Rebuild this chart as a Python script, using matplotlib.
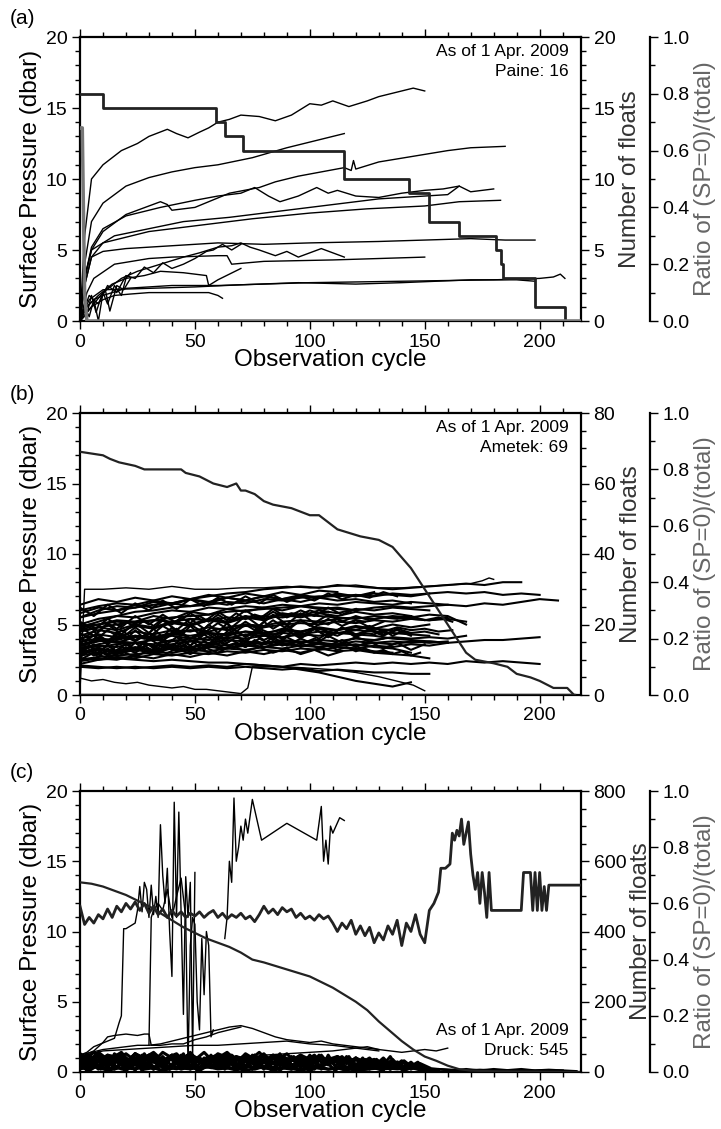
import numpy as np
import matplotlib
matplotlib.use('Agg')
import matplotlib.pyplot as plt
from matplotlib.ticker import MultipleLocator, FormatStrFormatter

plt.rcParams['font.family'] = ['Liberation Sans', 'DejaVu Sans']

# ---------------- Panel (a): Paine, 16 floats ----------------
a_floats = [
    ([0, 2, 5, 10, 18, 25, 30, 38, 42, 47, 52, 56, 60, 65, 70, 78, 85, 92, 100, 105, 110, 117, 125, 130, 135, 140, 145, 150],
     [0.0, 6.0, 10.0, 11.0, 12.0, 12.5, 13.0, 13.5, 13.2, 12.9, 13.3, 13.6, 14.0, 14.2, 14.5, 14.4, 14.1, 14.5, 15.3, 15.2, 15.5, 15.1, 15.5, 15.8, 16.0, 16.2, 16.4, 16.2]),
    ([0, 2, 5, 10, 20, 30, 40, 50, 60, 75, 90, 105, 115],
     [0.0, 4.0, 7.0, 8.3, 9.5, 10.1, 10.5, 10.8, 11.0, 11.5, 12.2, 12.8, 13.2]),
    ([0, 2, 5, 10, 20, 30, 35, 38, 40, 50, 65, 78, 85, 95, 115, 118, 119, 120, 130, 145, 160, 170, 185],
     [0.0, 3.0, 5.0, 6.3, 7.5, 8.1, 8.4, 8.2, 7.8, 8.0, 9.0, 9.4, 9.8, 10.2, 10.8, 10.6, 11.3, 10.7, 11.2, 11.6, 12.0, 12.2, 12.3]),
    ([0, 2, 5, 10, 20, 35, 50, 60, 70, 76, 82, 87, 95, 103, 108, 112, 120, 130, 140, 150, 158, 165],
     [0.0, 3.0, 5.2, 6.5, 7.4, 8.0, 8.5, 8.8, 9.0, 9.4, 8.8, 8.4, 8.8, 9.4, 9.0, 9.2, 8.8, 8.7, 9.0, 9.2, 9.3, 9.5]),
    ([0, 2, 5, 15, 30, 45, 65, 90, 110, 130, 150, 160, 165, 170, 180],
     [0.0, 3.0, 5.0, 6.0, 6.5, 7.0, 7.3, 7.8, 8.2, 8.6, 8.8, 8.9, 9.5, 9.1, 9.3]),
    ([0, 2, 5, 10, 30, 50, 75, 100, 125, 150, 165, 183],
     [0.0, 2.5, 4.5, 5.5, 6.3, 6.7, 7.2, 7.6, 7.9, 8.1, 8.4, 8.5]),
    ([0, 2, 5, 10, 20, 40, 60, 80, 100, 130, 150, 170, 185, 198],
     [0.0, 2.5, 4.5, 4.9, 5.1, 5.3, 5.5, 5.4, 5.5, 5.6, 5.7, 5.8, 5.7, 5.7]),
    ([0, 3, 6, 15, 30, 40, 60, 64, 66, 80, 110, 130, 150],
     [0.0, 2.0, 3.0, 4.0, 4.4, 4.5, 4.6, 4.6, 4.0, 4.2, 4.3, 4.4, 4.5]),
    ([0, 5, 10, 18, 25, 35, 45, 52, 60, 66, 70, 74, 78, 85, 90, 95, 100, 105, 110, 115],
     [0.0, 1.0, 2.0, 3.0, 3.5, 4.0, 4.5, 4.8, 5.2, 5.3, 5.5, 5.2, 5.0, 4.6, 4.9, 4.5, 4.8, 5.1, 4.8, 4.5]),
    ([0, 4, 8, 12, 16, 20, 24, 28, 32, 36, 40, 45, 50, 55, 58, 62, 66, 70],
     [0.0, 1.8, 1.2, 2.5, 2.0, 3.2, 3.0, 3.8, 3.4, 4.1, 3.7, 4.0, 4.4, 4.9, 5.0, 5.4, 5.0, 5.4]),
    ([0, 3, 8, 14, 20, 28, 35, 45, 50, 55, 56, 60, 65, 70],
     [0.0, 1.0, 1.8, 2.6, 3.0, 3.2, 3.5, 3.4, 3.3, 3.2, 2.5, 2.9, 3.3, 3.7]),
    ([0, 3, 6, 10, 20, 40, 60, 80, 100, 140, 180, 200, 206, 209, 211],
     [0.0, 1.0, 1.5, 1.8, 2.3, 2.5, 2.5, 2.6, 2.7, 2.8, 2.9, 3.0, 3.1, 3.3, 3.0]),
    ([0, 4, 10, 30, 50, 70, 95, 120, 140, 170, 190, 198],
     [0.0, 1.5, 2.2, 2.3, 2.4, 2.55, 2.7, 2.6, 2.7, 2.9, 2.9, 2.8]),
    ([0, 3, 5, 10, 15, 22, 30, 40, 50, 56, 60, 62],
     [0.0, 0.6, 1.0, 1.5, 1.8, 1.9, 2.0, 2.0, 2.0, 2.0, 1.8, 1.6]),
    ([0, 2, 4, 6, 8, 10, 12, 15, 18, 20, 22],
     [0.0, 1.0, 0.3, 1.5, 0.0, 2.0, 1.2, 2.5, 1.8, 3.0, 3.4]),
    ([0, 3, 5, 7, 9, 11, 13, 16, 19, 22],
     [0.0, 0.5, 1.8, 0.6, 1.6, 2.2, 0.7, 2.5, 2.2, 3.0]),
]
a_count_x = [0, 10, 59, 63, 71, 115, 143, 152, 165, 181, 183, 184, 198, 211, 218]
a_count_y = [16, 15, 14, 13, 12, 10, 9, 7, 6, 5, 4, 3, 1, 0, 0]
a_ratio_x = [0, 1, 2, 3, 218]
a_ratio_y = [0.68, 0.68, 0.1, 0.0, 0.0]

# ---------------- Panel (b): Ametek, 69 floats ----------------
b_special = [
    ([0, 2, 10, 20, 30, 40, 50, 60, 70, 80, 90, 100, 110, 120, 130, 140, 150, 160, 170, 175, 178, 180],
     [0.3, 7.5, 7.5, 7.6, 7.5, 7.7, 7.5, 7.5, 7.6, 7.6, 7.7, 7.6, 7.7, 7.8, 7.6, 7.6, 7.7, 7.8, 7.9, 8.1, 8.3, 8.2]),
    ([0, 5, 10, 15, 20, 25, 30, 35, 40, 45, 50, 55, 60, 65, 70, 73, 75, 80, 90, 100, 110, 120, 130, 140, 145, 150],
     [1.2, 1.0, 1.1, 0.9, 0.8, 0.9, 0.7, 0.6, 0.5, 0.6, 0.4, 0.4, 0.3, 0.2, 0.1, 0.5, 2.0, 2.0, 2.0, 1.9, 1.8, 1.6, 1.3, 0.9, 0.7, 0.3]),
]
b_step = 8
b_floats = [
    [5.5, 5.8, 6.0, 6.2, 6.4, 6.5, 6.8, 7.0, 7.2, 7.3, 7.5, 7.6, 7.7, 7.6, 7.8, 7.7, 7.6, 7.5, 7.6, 7.7, 7.8, 7.9, 7.8, 8.0, 8.0],
    [4.8, 5.2, 5.6, 5.9, 6.0, 6.2, 6.3, 6.4, 6.6, 6.5, 6.8, 6.7, 6.9, 7.0, 7.0, 7.1, 7.0, 7.2, 7.1, 7.2, 7.3, 7.2, 7.3, 7.1, 7.2, 7.1],
    [4.5, 4.8, 5.0, 5.2, 5.3, 5.5, 5.6, 5.7, 5.9, 6.0, 6.1, 6.2, 6.3, 6.2, 6.1, 6.0, 6.2, 6.3, 6.2, 6.3, 6.4, 6.3, 6.5, 6.4, 6.6, 6.8, 6.7],
    [3.5, 3.4, 3.6, 3.7, 3.5, 3.6, 3.8, 3.7, 3.9, 3.8, 3.7, 3.9, 3.8, 3.7, 3.6, 3.8, 3.7, 3.8, 3.7, 3.8, 3.7, 3.8, 3.9, 3.9, 4.0, 4.1],
    [2.0, 1.9, 2.0, 1.9, 2.0, 2.1, 2.0, 2.1, 2.0, 2.2, 2.1, 2.0, 2.2, 2.1, 2.2, 2.3, 2.2, 2.3, 2.2, 2.3, 2.2, 2.4, 2.3, 2.4, 2.3, 2.2],
    [2.1, 2.0, 1.9, 2.0, 1.9, 2.0, 1.9, 2.0, 1.9, 2.0, 1.9, 1.8, 1.9, 1.7, 1.8, 1.7, 1.6, 1.6, 1.5, 1.5],
    [2.6, 2.5, 2.6, 2.5, 2.4, 2.5, 2.4, 2.3, 2.3, 2.2, 2.1, 2.0, 1.8, 1.6, 1.3, 1.0, 0.8, 0.6, 0.9],
    [3.0, 3.3, 3.1, 3.4, 3.2, 3.5, 3.4, 3.6, 3.5, 3.7, 3.6, 3.8, 3.7, 3.9, 3.8, 4.0, 3.9, 4.1, 4.0, 4.1, 4.0, 4.2],
    [4.0, 4.3, 4.1, 4.5, 4.3, 4.6, 4.5, 4.8, 4.6, 4.9, 4.8, 5.0, 5.1, 5.0, 5.2, 5.1, 5.3, 5.2, 5.4, 5.3, 5.5],
    [3.5, 3.8, 4.0, 4.2, 4.1, 4.4, 4.6, 4.5, 4.8, 5.0, 4.9, 5.2, 5.3, 5.2, 5.4, 5.5, 5.4, 5.6, 5.5, 5.7, 5.6, 5.0],
    [5.0, 5.4, 5.6, 5.5, 5.8, 6.0, 5.9, 6.2, 6.1, 6.3, 6.2, 6.4, 6.3, 6.5, 6.4, 6.6, 6.5, 6.4, 6.6, 6.5, 6.4],
    [6.0, 6.3, 6.5, 6.4, 6.7, 6.5, 6.8, 6.6, 6.9, 6.7, 7.0, 6.8, 7.0, 6.9, 7.1, 7.0, 7.2, 7.1, 7.0, 7.2],
    [2.8, 3.0, 2.9, 3.2, 3.0, 3.3, 3.1, 3.4, 3.3, 3.5, 3.4, 3.6, 3.5, 3.7, 3.5, 3.6, 3.4, 3.3, 3.0],
    [2.5, 2.7, 2.8, 2.9, 3.0, 3.0, 3.2, 3.1, 3.3, 3.2, 3.4, 3.3, 3.5, 3.4, 3.6, 3.5, 3.7, 3.6, 3.8, 3.7, 3.8],
    [4.5, 4.8, 4.6, 5.0, 4.8, 5.2, 5.0, 5.4, 5.2, 5.6, 5.4, 5.8, 5.6, 6.0, 5.8, 6.1, 6.0, 6.2, 6.1, 6.0],
    [3.8, 4.0, 3.9, 4.2, 4.0, 4.3, 4.2, 4.4, 4.3, 4.5, 4.4, 4.6, 4.5, 4.7, 4.6, 4.8, 4.7, 4.6],
    [3.2, 3.5, 3.4, 3.7, 3.6, 3.9, 3.8, 4.1, 4.0, 4.3, 4.2, 4.4, 4.3, 4.5, 4.4, 4.6, 4.5, 4.4, 4.3, 4.2],
    [4.2, 4.6, 4.4, 4.9, 4.7, 5.1, 4.9, 5.3, 5.1, 5.5, 5.3, 5.7, 5.5, 5.8, 5.6, 5.9, 5.7, 5.8, 5.6],
    [5.5, 6.0, 6.3, 6.2, 6.6, 6.4, 6.8, 6.5, 6.9, 6.7, 7.0, 6.8, 7.1, 6.9, 7.2, 7.0, 7.3],
    [2.2, 2.5, 2.7, 2.6, 2.9, 2.8, 3.0, 2.9, 3.1, 3.0, 3.2, 3.1, 3.3, 3.2, 3.4, 3.3, 3.5, 3.4, 3.6, 3.5, 3.7],
    [4.6, 5.0, 5.3, 5.2, 5.6, 5.4, 5.9, 5.7, 6.1, 5.9, 6.2, 6.0, 6.3, 6.1, 6.2, 6.0],
    [3.6, 3.9, 3.7, 4.1, 3.9, 4.2, 4.0, 4.4, 4.2, 4.5, 4.3, 4.7, 4.5, 4.8, 4.6, 4.9, 4.7, 5.0, 4.8, 5.0],
    [2.9, 3.2, 3.0, 3.3, 3.1, 3.4, 3.2, 3.5, 3.3, 3.6, 3.4, 3.7, 3.5, 3.6, 3.4, 3.3, 3.1, 3.0],
    [4.9, 5.0, 5.2, 5.1, 5.3, 5.2, 5.4, 5.3, 5.5, 5.4, 5.6, 5.5, 5.7, 5.6, 5.5, 5.4, 5.6, 5.5, 5.4, 5.3, 5.4, 5.2],
    [6.4, 6.8, 6.6, 6.9, 6.7, 7.0, 6.8, 7.1, 6.9, 7.2, 7.0, 7.3, 7.1, 7.4, 7.3],
    [3.3, 3.6, 3.8, 3.7, 3.9, 3.8, 4.0, 3.9, 4.1, 4.0, 4.2, 4.1, 4.3, 4.2, 4.4, 4.3, 4.2, 4.0, 3.9, 3.8, 3.7],
    [2.4, 2.6, 2.5, 2.8, 2.6, 2.9, 2.7, 3.0, 2.8, 3.1, 2.9, 3.2, 3.0, 3.3, 3.1, 3.2, 3.0, 2.9, 2.8, 2.6],
    [5.8, 6.2, 6.0, 6.4, 6.2, 6.5, 6.3, 6.6, 6.4, 6.7, 6.5, 6.8, 6.6, 6.9, 6.7, 6.8, 6.6, 6.7, 6.5],
]
b_step2 = 6
b_floats2 = [
    [3.0, 3.6, 2.9, 3.8, 3.2, 4.0, 3.4, 4.1, 3.5, 4.3, 3.6, 4.4, 3.8, 4.5, 3.9, 4.6, 4.0, 4.7, 4.1, 4.8, 4.2, 4.7, 4.3, 4.6, 4.2],
    [4.4, 3.8, 4.6, 4.0, 4.8, 4.1, 4.9, 4.3, 5.0, 4.4, 5.1, 4.5, 5.2, 4.6, 5.3, 4.7, 5.3, 4.8, 5.4, 4.9, 5.3, 4.8, 5.2],
    [2.7, 3.3, 2.8, 3.4, 3.0, 3.6, 3.1, 3.7, 3.2, 3.8, 3.3, 3.9, 3.4, 4.0, 3.5, 4.1, 3.6, 4.0, 3.5, 3.9, 3.4, 3.8, 3.3, 3.7, 3.2, 3.6],
    [3.9, 4.5, 3.7, 4.6, 3.9, 4.4, 3.8, 4.7, 4.0, 4.5, 3.9, 4.8, 4.1, 4.6, 4.0, 4.9, 4.2, 4.7, 4.1, 4.8, 4.3, 4.6, 4.2, 4.7, 4.4, 4.5, 4.3],
    [5.2, 4.6, 5.4, 4.8, 5.6, 5.0, 5.7, 5.1, 5.8, 5.2, 5.9, 5.3, 6.0, 5.4, 6.1, 5.5, 6.0, 5.6, 6.2, 5.7, 6.1],
    [3.4, 2.8, 3.5, 2.9, 3.7, 3.0, 3.8, 3.1, 3.9, 3.2, 4.0, 3.3, 3.9, 3.4, 4.1, 3.5, 4.0, 3.6, 4.2, 3.7, 4.1, 3.8, 4.0],
    [4.8, 4.2, 5.0, 4.3, 5.1, 4.4, 5.3, 4.6, 5.4, 4.7, 5.5, 4.8, 5.6, 4.9, 5.7, 5.0, 5.8, 5.1, 5.7, 5.2, 5.6, 5.3, 5.5, 5.4, 5.6, 5.3, 5.5, 5.2],
    [2.5, 3.0, 2.6, 3.1, 2.7, 3.2, 2.8, 3.3, 2.9, 3.4, 3.0, 3.5, 3.1, 3.4, 3.0, 3.3, 2.9, 3.2, 2.8, 3.1],
    [6.2, 5.6, 6.4, 5.8, 6.5, 6.0, 6.7, 6.1, 6.8, 6.3, 6.9, 6.4, 7.0, 6.5, 7.1, 6.6, 7.0, 6.7, 7.2, 6.8, 7.1, 6.9, 7.3, 7.0],
    [3.7, 4.2, 3.6, 4.3, 3.8, 4.4, 3.9, 4.5, 4.0, 4.6, 4.1, 4.5, 4.2, 4.7, 4.3, 4.6, 4.4, 4.8, 4.5, 4.7, 4.6, 4.9, 4.5, 4.8, 4.6, 4.7, 4.5, 4.6],
]
b_step3 = 4
b_floats3 = [
    [3.1, 3.5, 2.9, 3.6, 3.0, 3.7, 3.2, 3.8, 3.3, 3.9, 3.4, 4.0, 3.5, 4.1, 3.6, 4.2, 3.7, 4.1, 3.8, 4.3, 3.9, 4.2, 4.0, 4.4, 4.1, 4.3, 4.0, 4.4, 4.2, 4.5, 4.1, 4.4, 4.3, 4.6, 4.2, 4.5, 4.3],
    [4.1, 3.6, 4.3, 3.8, 4.4, 3.9, 4.6, 4.0, 4.7, 4.1, 4.8, 4.2, 4.9, 4.3, 5.0, 4.4, 5.1, 4.5, 5.0, 4.6, 5.2, 4.7, 5.1, 4.8, 5.3, 4.9, 5.2, 5.0, 5.4, 5.1, 5.3, 5.2],
    [2.8, 3.2, 2.7, 3.3, 2.9, 3.4, 3.0, 3.5, 3.1, 3.6, 3.2, 3.7, 3.3, 3.6, 3.4, 3.8, 3.5, 3.7, 3.4, 3.9, 3.6, 3.8, 3.5, 3.7, 3.4, 3.6, 3.3, 3.5, 3.2, 3.4, 3.1, 3.3, 3.0, 3.2, 2.9, 3.1, 2.8, 3.0],
    [4.6, 5.0, 4.5, 5.1, 4.7, 5.2, 4.8, 5.3, 4.9, 5.4, 5.0, 5.5, 5.1, 5.6, 5.2, 5.7, 5.3, 5.8, 5.4, 5.7, 5.5, 5.9, 5.6, 5.8, 5.7, 6.0, 5.8, 5.9],
]
b_count_x = [0, 10, 13, 17, 24, 28, 44, 46, 52, 58, 64, 68, 70, 72, 76, 80, 84, 92, 100, 104, 112, 122, 130, 136, 140, 144, 148, 152, 156, 160, 164, 168, 172, 180, 186, 190, 196, 200, 206, 212, 215]
b_count_y = [69, 68, 67, 66, 65, 64, 64, 63, 62, 60, 59, 60, 58, 58, 57, 55, 54, 53, 51, 51, 47, 45, 44, 42, 39, 36, 32, 28, 24, 20, 16, 12, 10, 9, 8, 6, 5, 4, 2, 2, 0]
b_ratio_x = [0, 215]
b_ratio_y = [0.0, 0.0]

# ---------------- Panel (c): Druck, 545 floats ----------------
c_band_step = 4
c_band = [
    [0.2, 1.1, 0.4, 1.2, 0.3, 1.0, 0.5, 1.3, 0.2, 1.1, 0.4, 1.2, 0.3, 1.0, 0.5, 1.2, 0.3, 1.1, 0.4, 1.2, 0.2, 1.0, 0.5, 1.1, 0.3, 1.2, 0.4, 1.0, 0.3, 1.1, 0.2, 0.9, 0.4, 1.0, 0.3, 0.8, 0.2, 0.6, 0.3],
    [0.9, 0.3, 1.2, 0.5, 1.0, 0.2, 1.3, 0.4, 1.1, 0.3, 1.2, 0.6, 1.0, 0.2, 1.1, 0.4, 1.3, 0.3, 1.0, 0.5, 1.2, 0.2, 1.1, 0.4, 1.0, 0.3, 1.2, 0.5, 0.9, 0.2, 1.0, 0.4, 0.8, 0.3, 0.9, 0.2, 0.7, 0.1],
    [0.6, 0.8, 0.2, 0.9, 0.7, 0.3, 1.0, 0.6, 0.2, 0.8, 0.9, 0.3, 0.7, 1.0, 0.4, 0.6, 0.9, 0.2, 0.8, 0.7, 0.3, 1.0, 0.5, 0.2, 0.9, 0.6, 0.3, 0.8, 0.7, 0.2, 0.9, 0.5, 0.3, 0.7, 0.6, 0.2, 0.5, 0.4, 0.2, 0.1],
    [1.3, 0.8, 1.4, 0.9, 1.2, 0.7, 1.3, 1.0, 1.4, 0.8, 1.2, 0.9, 1.3, 0.7, 1.1, 1.0, 1.4, 0.8, 1.2, 0.9, 1.3, 0.6, 1.1, 0.8, 1.2, 0.7, 1.0, 0.9, 1.1, 0.6, 1.0, 0.7, 0.9, 0.5, 0.8, 0.4],
    [0.4, 0.1, 0.5, 0.2, 0.4, 0.1, 0.6, 0.2, 0.3, 0.1, 0.5, 0.2, 0.4, 0.1, 0.5, 0.3, 0.4, 0.1, 0.5, 0.2, 0.4, 0.1, 0.3, 0.2, 0.5, 0.1, 0.4, 0.2, 0.3, 0.1, 0.4, 0.2, 0.3, 0.1],
    [1.0, 1.2, 0.7, 1.1, 0.9, 1.3, 0.8, 1.0, 1.2, 0.7, 1.1, 0.9, 1.3, 0.8, 1.0, 1.2, 0.6, 1.1, 0.9, 1.2, 0.7, 1.0, 1.1, 0.8, 1.2, 0.9, 1.0, 0.7, 1.1, 0.8, 0.9],
    [0.7, 0.4, 0.9, 0.5, 0.8, 0.3, 0.9, 0.6, 0.7, 0.4, 1.0, 0.5, 0.8, 0.3, 0.9, 0.6, 0.8, 0.4, 0.9, 0.5, 0.7, 0.3, 0.8, 0.5, 0.7, 0.4],
    [1.1, 0.6, 1.3, 0.7, 1.2, 0.5, 1.3, 0.8, 1.1, 0.6, 1.2, 0.7, 1.4, 0.6, 1.1, 0.8, 1.2, 0.5, 1.0, 0.7, 0.9],
]
c_band_step2 = 3
c_band2 = [
    [0.3, 1.2, 0.6, 1.0, 0.2, 1.3, 0.5, 0.9, 0.1, 1.2, 0.7, 1.1, 0.3, 1.0, 0.6, 1.3, 0.2, 0.9, 0.5, 1.2, 0.3, 1.1, 0.7, 1.0, 0.2, 1.2, 0.4, 0.9, 0.6, 1.3, 0.3, 1.1, 0.5, 1.0, 0.2, 1.2, 0.6, 0.9, 0.3, 1.1, 0.4, 1.0, 0.2, 0.9, 0.5, 1.1, 0.3, 0.8, 0.4, 0.7, 0.2],
    [1.2, 0.5, 0.9, 0.2, 1.1, 0.6, 1.3, 0.3, 1.0, 0.4, 1.2, 0.7, 0.9, 0.2, 1.1, 0.5, 1.3, 0.4, 1.0, 0.6, 1.2, 0.3, 0.9, 0.5, 1.1, 0.2, 1.0, 0.6, 1.2, 0.4, 0.9, 0.3, 1.1, 0.5, 1.0, 0.2, 1.2, 0.4, 0.9, 0.6, 1.0, 0.3, 0.8, 0.5, 0.9, 0.2, 0.7, 0.4, 0.5],
    [0.8, 0.1, 0.6, 0.3, 0.9, 0.2, 0.7, 0.4, 0.8, 0.1, 0.6, 0.3, 0.9, 0.2, 0.7, 0.4, 0.8, 0.1, 0.6, 0.3, 0.9, 0.2, 0.7, 0.4, 0.8, 0.2, 0.6, 0.3, 0.7, 0.1, 0.6, 0.3, 0.8, 0.2, 0.7, 0.4, 0.6, 0.1, 0.5, 0.3, 0.6, 0.2, 0.5, 0.3, 0.4, 0.2, 0.4, 0.1, 0.3, 0.2, 0.3, 0.1],
    [1.3, 1.0, 1.4, 0.9, 1.2, 1.1, 1.4, 0.8, 1.3, 1.0, 1.2, 0.9, 1.4, 1.1, 1.3, 0.8, 1.2, 1.0, 1.4, 0.9, 1.3, 1.1, 1.2, 0.8, 1.3, 1.0, 1.4, 0.9, 1.2, 1.0, 1.3, 0.8, 1.1, 0.9, 1.2, 0.7, 1.0, 0.8, 1.1, 0.6, 0.9, 0.7, 1.0, 0.5, 0.8, 0.6, 0.7],
]
c_tail_step = 6
c_tail = [
    [0.5, 0.3, 0.6, 0.2, 0.5, 0.3, 0.4, 0.2, 0.5, 0.3, 0.4, 0.2, 0.3, 0.4, 0.2, 0.3, 0.2, 0.3, 0.2, 0.3, 0.2, 0.3, 0.2, 0.3, 0.4, 0.3, 0.2, 0.15, 0.1, 0.15, 0.1, 0.12, 0.08, 0.1, 0.12, 0.1, 0.05],
    [0.2, 0.4, 0.1, 0.3, 0.2, 0.4, 0.1, 0.3, 0.2, 0.4, 0.2, 0.3, 0.1, 0.3, 0.2, 0.3, 0.1, 0.3, 0.2, 0.3, 0.1, 0.2, 0.3, 0.2, 0.3, 0.1, 0.2, 0.1, 0.2, 0.1, 0.2, 0.12, 0.2, 0.1, 0.15, 0.1],
]
c_special = [
    ([0, 5, 10, 15, 20, 25, 30, 35, 40, 45, 50, 55, 60, 65, 70, 75, 80, 85, 90, 95, 100, 105, 110, 115, 120, 125, 130],
     [1.2, 1.4, 1.6, 1.7, 1.8, 1.9, 1.9, 2.0, 2.2, 2.4, 2.6, 2.8, 3.0, 3.2, 3.3, 3.1, 2.8, 2.5, 2.3, 2.2, 2.1, 2.2, 2.0, 1.9, 1.8, 1.7, 1.6]),
    ([0, 3, 6, 10, 12, 15, 20, 25, 28, 30, 31, 35, 40, 45, 50, 55, 60, 65, 70],
     [1.0, 1.3, 1.5, 2.1, 2.5, 2.6, 2.7, 2.6, 2.7, 2.7, 1.9, 1.9, 2.0, 2.0, 2.3, 2.5, 2.8, 3.0, 3.2]),
    ([80, 90, 100, 110, 115, 120, 125, 130, 135, 140, 145, 150, 155, 160],
     [1.2, 1.3, 1.4, 1.5, 1.6, 1.7, 1.8, 1.6, 1.5, 1.4, 1.5, 1.6, 1.5, 1.7]),
    ([0, 10, 20, 30, 40, 50, 60, 70, 80, 90, 100, 110, 120, 130],
     [1.1, 1.5, 1.6, 1.7, 1.8, 1.9, 1.9, 2.0, 2.1, 2.2, 2.0, 1.9, 1.7, 1.5]),
    ([0, 3, 6, 9, 12, 15, 17, 18, 19, 20, 22, 24, 25, 26, 27, 28, 29, 30, 31, 32, 33, 34, 35, 36, 37, 38, 39, 40, 41, 42, 43, 44, 45, 46, 47, 48, 49, 50],
     [1.2, 1.4, 1.8, 2.0, 2.2, 2.4, 3.5, 4.0, 10.2, 10.2, 10.4, 10.6, 11.5, 13.2, 11.4, 13.5, 13.0, 11.0, 13.3, 11.2, 12.5, 11.0, 17.6, 14.0, 12.0, 14.5, 10.0, 6.8, 19.2, 11.0, 18.5, 11.2, 4.1, 13.9, 11.0, 13.5, 1.0, 14.2]),
    ([30, 31, 32, 34, 36, 38, 40, 42, 44, 46, 47, 48, 49, 50, 51, 52, 53, 54, 55, 56, 57, 58],
     [1.9, 11.0, 11.5, 12.0, 11.5, 13.0, 11.0, 12.5, 13.8, 11.0, 0.5, 9.0, 11.0, 10.5, 5.0, 3.0, 9.5, 5.5, 10.0, 9.0, 2.5, 3.0]),
    ([63, 64, 65, 66, 67, 68, 69, 70, 71, 72, 73, 75, 79, 90, 103, 105, 106, 107, 108, 109, 110, 113, 115],
     [9.5, 11.0, 15.0, 13.5, 19.5, 15.0, 16.0, 17.5, 16.5, 18.0, 17.0, 19.4, 16.5, 17.7, 16.5, 18.9, 15.0, 16.5, 14.8, 17.5, 17.0, 18.1, 17.9]),
]
c_count_x = [0, 5, 10, 20, 25, 30, 35, 40, 45, 50, 55, 60, 65, 70, 75, 80, 90, 100, 110, 115, 120, 125, 130, 135, 140, 145, 150, 155, 160, 165, 170, 180, 200, 218]
c_count_y = [540, 536, 528, 504, 488, 472, 452, 432, 412, 396, 380, 368, 356, 340, 320, 312, 292, 272, 240, 220, 200, 176, 144, 116, 88, 64, 44, 32, 18, 8, 4, 2, 1, 0]
c_ratio_x = list(range(0, 151, 2)) + [152, 154, 156, 157, 159, 161, 162, 163, 164, 165, 166, 167, 168, 169, 170, 171, 172, 173, 174, 175, 176, 177, 178, 179, 180, 192, 193, 196, 197, 198, 199, 200, 201, 202, 203, 204, 220]
c_ratio_y = [0.59, 0.525, 0.55, 0.53, 0.56, 0.545, 0.58, 0.55, 0.59, 0.57, 0.60, 0.58, 0.605, 0.575, 0.60, 0.565, 0.59, 0.56, 0.58, 0.55,
             0.575, 0.555, 0.57, 0.55, 0.565, 0.555, 0.57, 0.55, 0.565, 0.575, 0.55, 0.565, 0.545, 0.56, 0.55, 0.565, 0.545, 0.555, 0.535, 0.56,
             0.59, 0.565, 0.58, 0.56, 0.585, 0.57, 0.58, 0.55, 0.565, 0.545, 0.555, 0.54, 0.56, 0.545, 0.555, 0.53, 0.50, 0.53, 0.51, 0.54,
             0.49, 0.52, 0.485, 0.515, 0.46, 0.495, 0.47, 0.52, 0.49, 0.54, 0.45, 0.53, 0.50, 0.56, 0.49, 0.46,
             0.575, 0.60, 0.64, 0.725, 0.725, 0.74, 0.85, 0.825, 0.86, 0.84, 0.90, 0.81, 0.85, 0.89, 0.775, 0.70, 0.65, 0.71, 0.60, 0.71,
             0.64, 0.55, 0.71, 0.575, 0.575, 0.575, 0.71, 0.71, 0.575, 0.71, 0.575, 0.71, 0.575, 0.66, 0.575, 0.665, 0.665]

XMAX = 218
FIG_W, FIG_H = 721, 1129
LEFT, RIGHT = 80, 581
panels = [
    dict(top=37, bottom=321),
    dict(top=413, bottom=695),
    dict(top=791, bottom=1072),
]

fig = plt.figure(figsize=(FIG_W / 100, FIG_H / 100), dpi=100)

TICK_FS = 14
LAB_FS = 17.5
ANN_FS = 12.5


def style_ticks(a):
    a.tick_params(which='both', direction='out', width=1.0, labelsize=TICK_FS, pad=3)
    a.tick_params(which='major', length=6)
    a.tick_params(which='minor', length=3.5)


def setup(p, label, cmax, cmajor, cminor):
    ax = fig.add_axes([LEFT / FIG_W, 1 - p['bottom'] / FIG_H,
                       (RIGHT - LEFT) / FIG_W, (p['bottom'] - p['top']) / FIG_H])
    ax.set_xlim(0, XMAX)
    ax.set_ylim(0, 20)
    for s in ax.spines.values():
        s.set_linewidth(1.6)
    ax.spines['right'].set_visible(False)
    ax.xaxis.set_major_locator(MultipleLocator(50))
    ax.xaxis.set_minor_locator(MultipleLocator(10))
    ax.yaxis.set_major_locator(MultipleLocator(5))
    ax.yaxis.set_minor_locator(MultipleLocator(1))
    style_ticks(ax)
    ax.tick_params(which='both', top=True, right=False)
    ax.set_xlabel('Observation cycle', fontsize=LAB_FS, labelpad=-1)
    ax.set_ylabel('Surface Pressure (dbar)', fontsize=LAB_FS, labelpad=3)
    fig.text(10 / FIG_W, 1 - (p['top'] - 19) / FIG_H, label, fontsize=15, ha='left', va='center')

    axn = ax.twinx()
    axn.set_ylim(0, cmax)
    axn.set_xlim(0, XMAX)
    for k, s in axn.spines.items():
        s.set_visible(k == 'right')
    axn.spines['right'].set_linewidth(1.6)
    axn.yaxis.set_major_locator(MultipleLocator(cmajor))
    axn.yaxis.set_minor_locator(MultipleLocator(cminor))
    style_ticks(axn)
    axn.set_ylabel('Number of floats', fontsize=LAB_FS, color='#333333', labelpad=3)

    axr = ax.twinx()
    axr.set_ylim(0, 1)
    axr.set_xlim(0, XMAX)
    for k, s in axr.spines.items():
        s.set_visible(k == 'right')
    axr.spines['right'].set_position(('axes', 1 + 69 / (RIGHT - LEFT)))
    axr.spines['right'].set_linewidth(1.6)
    axr.yaxis.set_major_locator(MultipleLocator(0.2))
    axr.yaxis.set_minor_locator(MultipleLocator(0.1))
    axr.yaxis.set_major_formatter(FormatStrFormatter('%.1f'))
    style_ticks(axr)
    axr.set_ylabel('Ratio of (SP=0)/(total)', fontsize=LAB_FS, color='#666666', labelpad=3)
    return ax, axn, axr


LW = 1.0
# Panel (a)
ax, axn, axr = setup(panels[0], '(a)', 20, 5, 1)
for xs, ys in a_floats:
    ax.plot(xs, ys, color='black', lw=LW)
axn.plot(a_count_x, a_count_y, drawstyle='steps-post', color='#222222', lw=2.0)
axr.plot(a_ratio_x, a_ratio_y, color='#777777', lw=2.5)
ax.text(0.975, 0.975, 'As of 1 Apr. 2009\nPaine: 16', transform=ax.transAxes,
        ha='right', va='top', fontsize=ANN_FS, linespacing=1.4)

# Panel (b)
ax, axn, axr = setup(panels[1], '(b)', 80, 20, 5)
for xs, ys in b_special:
    ax.plot(xs, ys, color='black', lw=LW)
for vals in b_floats:
    ax.plot(np.arange(len(vals)) * b_step, vals, color='black', lw=1.5)
for vals in b_floats2:
    ax.plot(np.arange(len(vals)) * b_step2, vals, color='black', lw=1.5)
for vals in b_floats3:
    ax.plot(np.arange(len(vals)) * b_step3, vals, color='black', lw=1.5)
axn.plot(b_count_x, b_count_y, color='#222222', lw=1.6)
axr.plot(b_ratio_x, b_ratio_y, color='#222222', lw=2.5)
ax.text(0.975, 0.975, 'As of 1 Apr. 2009\nAmetek: 69', transform=ax.transAxes,
        ha='right', va='top', fontsize=ANN_FS, linespacing=1.4)

# Panel (c)
ax, axn, axr = setup(panels[2], '(c)', 800, 200, 50)
for vals in c_band:
    ax.plot(np.arange(len(vals)) * c_band_step, vals, color='black', lw=2.2)
for vals in c_band2:
    ax.plot(np.arange(len(vals)) * c_band_step2, vals, color='black', lw=2.2)
for vals in c_tail:
    ax.plot(np.arange(len(vals)) * c_tail_step, vals, color='black', lw=1.8)
for xs, ys in c_special:
    ax.plot(xs, ys, color='black', lw=LW)
axn.plot(c_count_x, c_count_y, color='#222222', lw=1.6)
axr.plot(c_ratio_x, c_ratio_y, color='#222222', lw=2.0)
ax.text(0.975, 0.05, 'As of 1 Apr. 2009\nDruck: 545', transform=ax.transAxes,
        ha='right', va='bottom', fontsize=ANN_FS, linespacing=1.4)

fig.savefig('out.png', dpi=100)
